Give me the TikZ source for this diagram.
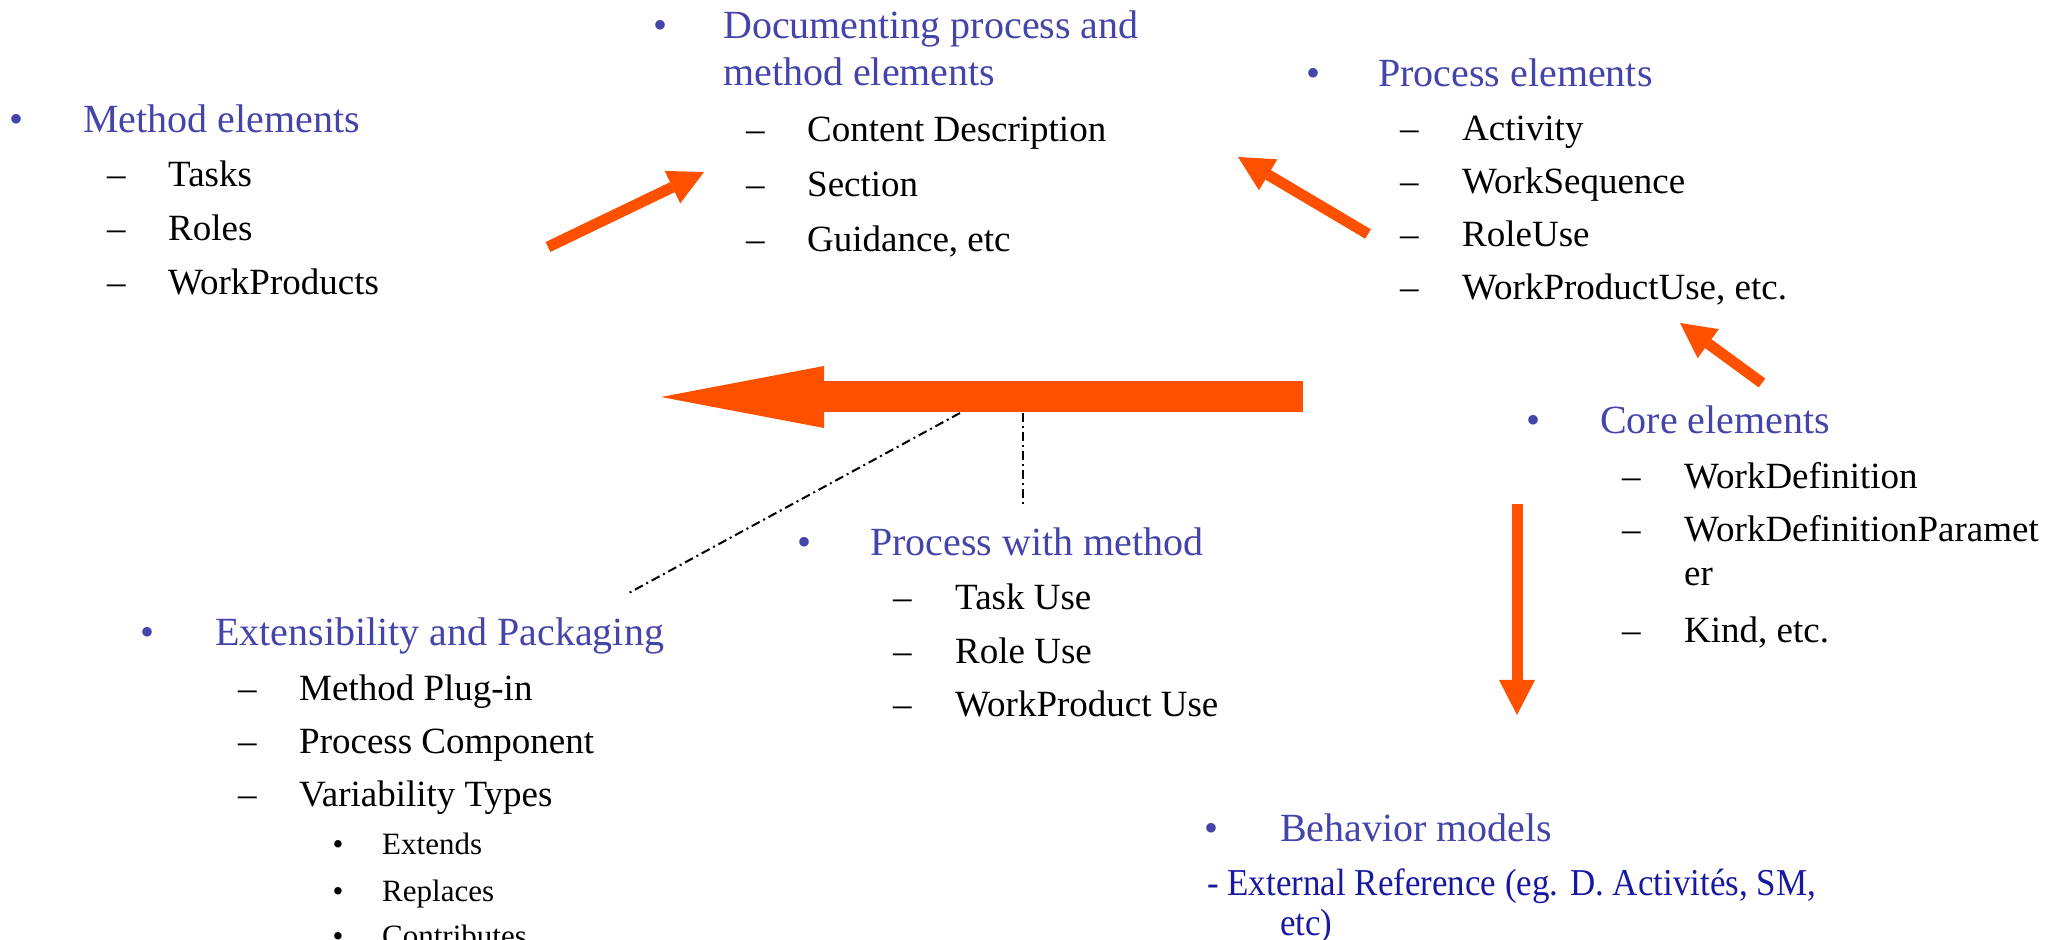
\documentclass[tikz,border=0pt]{standalone}
\usepackage{fontspec}
\setmainfont{Liberation Serif}
\newfontfamily\narrowserif[FakeStretch=0.92]{Liberation Serif}
\usetikzlibrary{arrows.meta}
\definecolor{headblue}{RGB}{68,68,170}
\definecolor{refblue}{RGB}{24,24,160}
\definecolor{flow}{RGB}{255,80,0}
\tikzset{
  headtext/.style={anchor=base west,inner sep=0pt,text=headblue,font=\fontsize{40bp}{48bp}\selectfont},
  headbullet/.style={anchor=base,inner sep=0pt,text=headblue,font=\fontsize{40bp}{48bp}\selectfont},
  subline/.style={anchor=base west,inner sep=0pt,font=\fontsize{37bp}{44bp}\selectfont},
  subsubline/.style={anchor=base west,inner sep=0pt,font=\fontsize{31bp}{37bp}\selectfont},
  subbullet/.style={anchor=base,inner sep=0pt,font=\fontsize{31bp}{37bp}\selectfont},
  reftext/.style={anchor=base west,inner sep=0pt,text=refblue,font=\narrowserif\fontsize{38bp}{44bp}\selectfont},
  flowarrow/.style={draw=flow,line width=11bp,-{Triangle[length=35bp,width=36bp,line width=0pt]}},
  leader/.style={draw=black,line width=2bp,dash pattern=on 9bp off 4bp on 2bp off 4bp},
}
\begin{document}
\begin{tikzpicture}[>=latex,line join=bevel,]
\useasboundingbox (0bp,0bp) rectangle (2071bp,940bp);
%% method elements
\node (me_bul) at (17bp,807bp) [headbullet] {•};
\node (me_head) at (83bp,807bp) [headtext] {Method elements};
\node (me_d1) at (107bp,753bp) [subline] {–};
\node (me_1) at (168bp,753bp) [subline] {Tasks};
\node (me_d2) at (107bp,699bp) [subline] {–};
\node (me_2) at (168bp,699bp) [subline] {Roles};
\node (me_d3) at (107bp,645bp) [subline] {–};
\node (me_3) at (168bp,645bp) [subline] {WorkProducts};
%% documenting
\node (doc_bul) at (660bp,901bp) [headbullet] {•};
\node (doc_head) at (723bp,901bp) [headtext] {Documenting process and};
\node (doc_head2) at (723bp,854bp) [headtext] {method elements};
\node (doc_d1) at (746bp,798bp) [subline] {–};
\node (doc_1) at (807bp,798bp) [subline] {Content Description};
\node (doc_d2) at (746bp,743bp) [subline] {–};
\node (doc_2) at (807bp,743bp) [subline] {Section};
\node (doc_d3) at (746bp,688bp) [subline] {–};
\node (doc_3) at (807bp,688bp) [subline] {Guidance, etc};
%% process elements
\node (pe_bul) at (1313bp,853bp) [headbullet] {•};
\node (pe_head) at (1378bp,853bp) [headtext] {Process elements};
\node (pe_d1) at (1400bp,799bp) [subline] {–};
\node (pe_1) at (1462bp,799bp) [subline] {Activity};
\node (pe_d2) at (1400bp,746bp) [subline] {–};
\node (pe_2) at (1462bp,746bp) [subline] {WorkSequence};
\node (pe_d3) at (1400bp,693bp) [subline] {–};
\node (pe_3) at (1462bp,693bp) [subline] {RoleUse};
\node (pe_d4) at (1400bp,640bp) [subline] {–};
\node (pe_4) at (1462bp,640bp) [subline] {WorkProductUse, etc.};
%% core elements
\node (ce_bul) at (1533bp,506bp) [headbullet] {•};
\node (ce_head) at (1600bp,506bp) [headtext] {Core elements};
\node (ce_d1) at (1622bp,451bp) [subline] {–};
\node (ce_1) at (1684bp,451bp) [subline] {WorkDefinition};
\node (ce_d2) at (1622bp,398bp) [subline] {–};
\node (ce_2) at (1684bp,398bp) [subline] {WorkDefinitionParamet};
\node (ce_2b) at (1684bp,354bp) [subline] {er};
\node (ce_d3) at (1622bp,297bp) [subline] {–};
\node (ce_3) at (1684bp,297bp) [subline] {Kind, etc.};
%% process with method
\node (pm_bul) at (804bp,384bp) [headbullet] {•};
\node (pm_head) at (870bp,384bp) [headtext] {Process with method};
\node (pm_d1) at (893bp,330bp) [subline] {–};
\node (pm_1) at (955bp,330bp) [subline] {Task Use};
\node (pm_d2) at (893bp,276bp) [subline] {–};
\node (pm_2) at (955bp,276bp) [subline] {Role Use};
\node (pm_d3) at (893bp,223bp) [subline] {–};
\node (pm_3) at (955bp,223bp) [subline] {WorkProduct Use};
%% extensibility and packaging
\node (ep_bul) at (147bp,294bp) [headbullet] {•};
\node (ep_head) at (215bp,294bp) [headtext] {Extensibility and Packaging};
\node (ep_d1) at (238bp,239bp) [subline] {–};
\node (ep_1) at (299bp,239bp) [subline] {Method Plug-in};
\node (ep_d2) at (238bp,186bp) [subline] {–};
\node (ep_2) at (299bp,186bp) [subline] {Process Component};
\node (ep_d3) at (238bp,133bp) [subline] {–};
\node (ep_3) at (299bp,133bp) [subline] {Variability Types};
\node (ep_b1) at (338bp,85bp) [subbullet] {•};
\node (ep_31) at (382bp,85bp) [subsubline] {Extends};
\node (ep_b2) at (338bp,39bp) [subbullet] {•};
\node (ep_32) at (382bp,39bp) [subsubline] {Replaces};
\node (ep_b3) at (338bp,-6bp) [subbullet] {•};
\node (ep_33) at (382bp,-6bp) [subsubline] {Contributes};
%% behavior models
\node (bm_bul) at (1211bp,98bp) [headbullet] {•};
\node (bm_head) at (1280bp,98bp) [headtext] {Behavior models};
\node (bm_1) at (1207bp,44bp) [reftext] {- External Reference (eg. D. Activités, SM,};
\node (bm_1b) at (1280bp,5bp) [reftext] {etc)};
%% arrows
\coordinate (a1_tail) at (548bp,693bp);
\coordinate (a1_tip) at (704bp,768bp);
\coordinate (a2_tail) at (1368bp,706bp);
\coordinate (a2_tip) at (1238bp,783bp);
\coordinate (a3_tail) at (1762bp,557bp);
\coordinate (a3_tip) at (1680bp,617bp);
\coordinate (a4_tail) at (1517bp,436bp);
\coordinate (a4_tip) at (1517bp,225bp);
\coordinate (big_tail) at (1303bp,543bp);
\coordinate (big_tip) at (661bp,543bp);
\coordinate (lead1_top) at (960bp,527bp);
\coordinate (lead1_end) at (627bp,346bp);
\coordinate (lead2_top) at (1023bp,527bp);
\coordinate (lead2_end) at (1023bp,435bp);
\draw [flowarrow] (a1_tail) -- (a1_tip);
\draw [flowarrow] (a2_tail) -- (a2_tip);
\draw [flowarrow] (a3_tail) -- (a3_tip);
\draw [flowarrow] (a4_tail) -- (a4_tip);
\draw [draw=flow,line width=31bp,-{Triangle[length=163bp,width=62bp,line width=0pt]}] (big_tail) -- (big_tip);
\draw [leader] (lead1_top) -- (lead1_end);
\draw [leader] (lead2_top) -- (lead2_end);
%
\end{tikzpicture}
\end{document}
